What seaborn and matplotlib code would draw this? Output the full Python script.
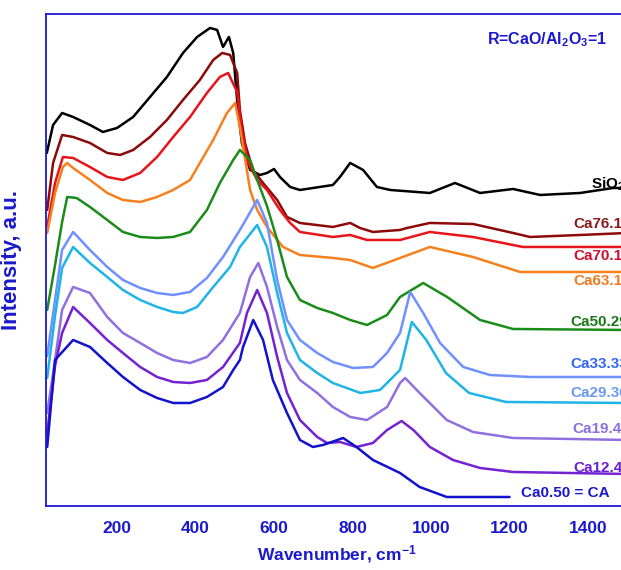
import matplotlib
matplotlib.use("Agg")
import matplotlib.pyplot as plt
import seaborn as sns
from matplotlib import font_manager
from matplotlib.ticker import MultipleLocator

# Raman spectra (intensity in arbitrary units)
wn_sio2 = [21, 37, 60, 88, 131, 164, 200, 241, 284, 327, 368, 404, 437, 455, 470, 485, 496, 508, 518, 539,
           564, 582, 600, 615, 641, 666, 750, 768, 794, 827, 862, 896, 997, 1061, 1125, 1209, 1278, 1380, 1464, 1500]
int_sio2 = [353, 381, 393, 389, 381, 374, 378, 389, 409, 429, 453, 469, 478, 476, 459, 469, 453, 396, 363, 336,
            331, 333, 337, 329, 319, 316, 321, 329, 343, 336, 319, 316, 313, 323, 313, 317, 311, 313, 318, 318]

wn_ca76 = [22, 37, 60, 88, 131, 175, 208, 241, 284, 327, 368, 411, 445, 468, 488, 506, 513, 526, 546, 572,
           608, 633, 666, 750, 794, 819, 852, 921, 939, 997, 1107, 1209, 1252, 1380, 1500]
int_ca76 = [296, 343, 371, 369, 363, 353, 351, 356, 369, 386, 406, 426, 446, 453, 451, 433, 396, 363, 336, 323,
            306, 289, 283, 279, 283, 278, 274, 276, 278, 283, 282, 273, 269, 271, 273]

wn_ca70 = [22, 42, 62, 88, 131, 175, 215, 259, 302, 343, 386, 429, 462, 483, 506, 518, 534, 557, 582, 615,
           641, 666, 750, 794, 837, 921, 997, 1107, 1234, 1380, 1500]
int_ca70 = [279, 323, 349, 348, 339, 329, 326, 333, 349, 369, 389, 413, 429, 433, 414, 376, 343, 326, 316, 296,
            283, 274, 269, 271, 266, 266, 274, 269, 259, 259, 259]

wn_ca63 = [22, 42, 62, 73, 88, 131, 175, 215, 259, 302, 343, 386, 411, 445, 480, 501, 513, 539, 557, 582,
           623, 666, 750, 794, 852, 921, 997, 1107, 1227, 1380, 1500]
int_ca63 = [273, 313, 339, 343, 338, 326, 313, 306, 304, 309, 316, 326, 343, 366, 393, 403, 379, 316, 296, 279,
            259, 251, 248, 246, 238, 248, 259, 249, 234, 234, 234]

wn_ca50 = [22, 42, 60, 73, 97, 131, 175, 215, 259, 302, 343, 386, 429, 462, 496, 513, 539, 557, 582, 608,
           633, 666, 710, 750, 794, 837, 888, 921, 980, 1041, 1125, 1209, 1500]
int_ca50 = [196, 241, 284, 309, 308, 299, 286, 274, 269, 268, 269, 274, 296, 323, 346, 356, 346, 326, 300, 266,
            229, 206, 198, 193, 186, 181, 191, 209, 223, 209, 186, 177, 176]

wn_ca33 = [22, 42, 60, 88, 131, 175, 215, 259, 302, 343, 386, 429, 470, 513, 557, 582, 608, 633, 666, 710,
           750, 801, 852, 888, 921, 947, 980, 1023, 1082, 1150, 1252, 1500]
int_ca33 = [150, 206, 256, 274, 256, 239, 226, 218, 213, 211, 214, 228, 249, 276, 306, 283, 226, 186, 166, 153,
            144, 138, 139, 153, 173, 214, 193, 163, 139, 131, 129, 129]

wn_ca29 = [22, 42, 60, 88, 131, 175, 215, 259, 302, 343, 368, 404, 445, 488, 513, 557, 582, 608, 633, 666,
           710, 750, 820, 870, 921, 951, 988, 1038, 1097, 1191, 1500]
int_ca29 = [128, 190, 238, 259, 243, 229, 216, 206, 199, 194, 193, 199, 219, 239, 259, 281, 259, 213, 173, 146,
            133, 123, 113, 116, 136, 184, 166, 133, 113, 104, 103]

wn_ca19 = [22, 42, 60, 88, 131, 175, 215, 259, 302, 343, 386, 429, 470, 513, 539, 560, 582, 608, 633, 666,
           710, 750, 794, 837, 888, 921, 934, 971, 1040, 1107, 1209, 1500]
int_ca19 = [93, 146, 196, 219, 213, 189, 173, 163, 153, 146, 143, 149, 166, 193, 229, 243, 219, 179, 146, 126,
            113, 99, 89, 86, 99, 123, 128, 113, 86, 74, 68, 66]

wn_ca12 = [22, 42, 60, 88, 131, 175, 215, 259, 302, 343, 386, 429, 470, 513, 531, 557, 582, 608, 633, 666,
           710, 735, 768, 810, 852, 888, 925, 955, 997, 1056, 1125, 1209, 1500]
int_ca12 = [73, 140, 173, 199, 183, 166, 153, 139, 129, 124, 123, 126, 139, 163, 193, 216, 193, 149, 113, 86,
            69, 63, 64, 59, 63, 76, 85, 76, 59, 46, 38, 34, 32]

wn_ca0 = [22, 42, 88, 131, 175, 215, 259, 302, 343, 386, 429, 470, 496, 513, 521, 547, 572, 597, 633, 666,
          699, 725, 776, 810, 852, 921, 971, 1040, 1200]
int_ca0 = [59, 146, 166, 159, 143, 129, 116, 108, 103, 103, 109, 119, 136, 146, 159, 186, 166, 126, 93, 66,
           59, 61, 68, 59, 46, 33, 19, 9, 9]

names = ["SiO$_2$", "Ca76.11", "Ca70.15", "Ca63.18", "Ca50.29",
         "Ca33.33", "Ca29.36", "Ca19.40", "Ca12.44", "Ca0.50 = CA"]
line_colors = ["#000000", "#8b0a0a", "#e8141c", "#f7801e", "#1a8c1a",
               "#7090ff", "#1fb4e8", "#9070e0", "#7422d2", "#1212cc"]
label_colors = ["#000000", "#8b1a1a", "#cc1133", "#f07a20", "#1a7a1a",
                "#3366ee", "#6a9af0", "#8a70e0", "#6a1fd0", "#1a1acc"]
label_x = [1408, 1362, 1362, 1362, 1354, 1354, 1354, 1359, 1362, 1229]
label_y = [322, 282, 250, 225, 184, 142, 113, 77, 38, 13]

series = [(wn_sio2, int_sio2), (wn_ca76, int_ca76), (wn_ca70, int_ca70), (wn_ca63, int_ca63),
          (wn_ca50, int_ca50), (wn_ca33, int_ca33), (wn_ca29, int_ca29), (wn_ca19, int_ca19),
          (wn_ca12, int_ca12), (wn_ca0, int_ca0)]

sns.set_theme(style="white")
available = {f.name for f in font_manager.fontManager.ttflist}
font = "Liberation Sans Narrow" if "Liberation Sans Narrow" in available else "Liberation Sans"
plt.rcParams["font.family"] = [font, "DejaVu Sans"]
plt.rcParams["font.weight"] = "bold"
plt.rcParams["mathtext.fontset"] = "custom"
plt.rcParams["mathtext.rm"] = f"{font}:bold"
plt.rcParams["mathtext.bf"] = f"{font}:bold"
plt.rcParams["mathtext.it"] = f"{font}:bold"

axis_blue = "#1a1acc"

fig = plt.figure(figsize=(6.21, 5.70), dpi=100)
ax = fig.add_axes([0.0741, 0.1123, 0.936, 0.8632])

for (x, y), c in zip(series, line_colors):
    sns.lineplot(x=x, y=y, color=c, linewidth=1.8, ax=ax, sort=False)

# sample labels run off the right edge, as in the original figure
for name, c, lx, ly in zip(names, label_colors, label_x, label_y):
    ax.text(lx, ly, name, color=c, fontsize=11, fontweight="bold", ha="left", va="center")

ax.text(1143, 466, "R=CaO/Al$_2$O$_3$=1", color=axis_blue, fontsize=11.5,
        fontweight="bold", ha="left", va="center")

ax.set_xlim(19, 1500)
ax.set_ylim(0, 492)
ax.xaxis.set_major_locator(MultipleLocator(200))
ax.xaxis.set_minor_locator(MultipleLocator(50))
ax.yaxis.set_major_locator(MultipleLocator(94.6))
ax.yaxis.set_minor_locator(MultipleLocator(18.92))
ax.set_xticks(range(200, 1500, 200))
ax.set_yticklabels([])

ax.tick_params(axis="both", which="both", direction="in", colors=axis_blue,
               labelcolor=axis_blue, labelsize=12.5, pad=11)
ax.tick_params(which="major", length=5, width=1)
ax.tick_params(which="minor", length=3, width=1)
for lab in ax.get_xticklabels():
    lab.set_fontweight("bold")

for side in ["left", "bottom", "top", "right"]:
    ax.spines[side].set_color(axis_blue)
    ax.spines[side].set_linewidth(1.3)

ax.set_xlabel("Wavenumber, cm$^{-1}$", color=axis_blue, fontsize=12.5, fontweight="bold", labelpad=5)
ax.set_ylabel("Intensity, a.u.", color=axis_blue, fontsize=16, fontweight="bold", labelpad=6)

fig.savefig("out.png", dpi=100)
